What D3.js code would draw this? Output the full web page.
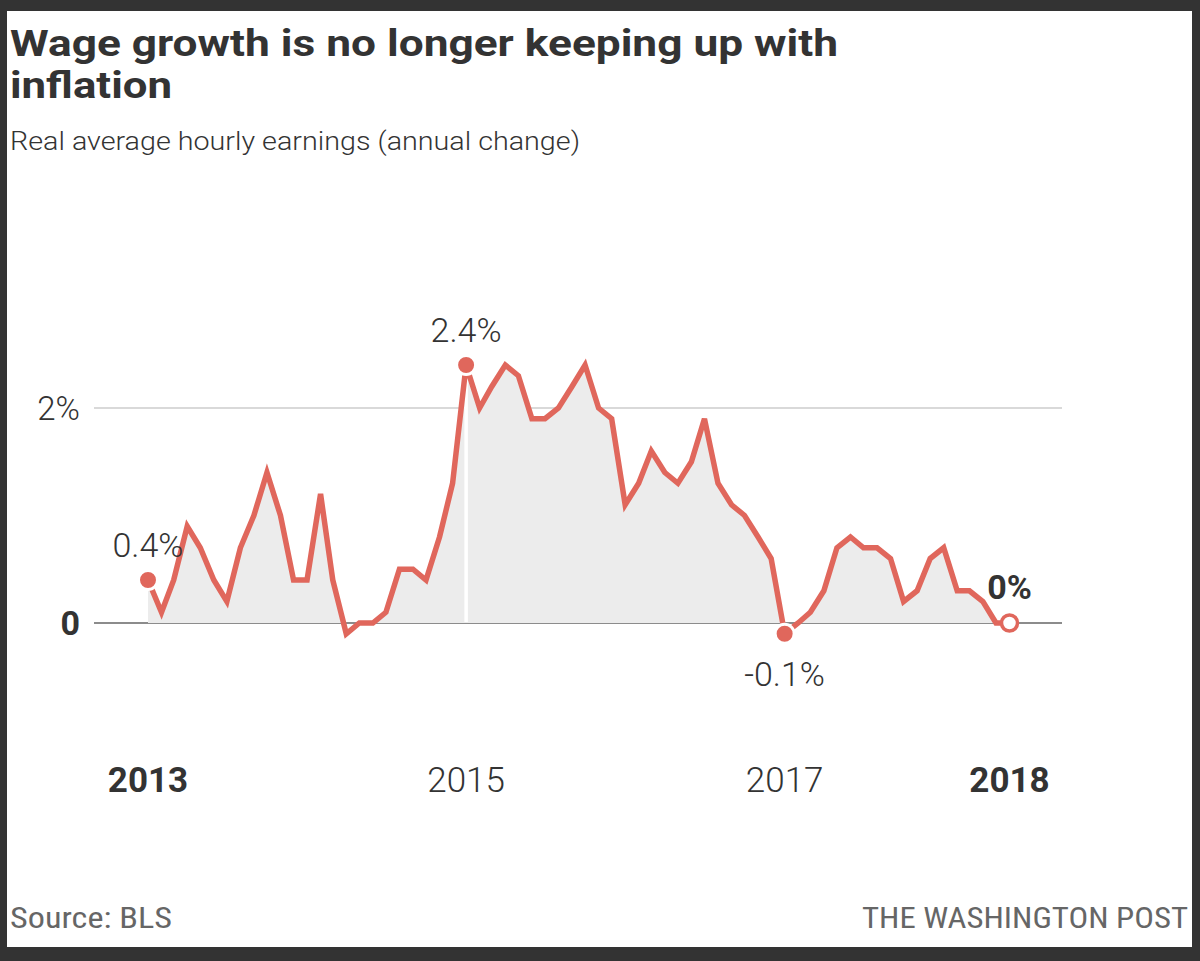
<!DOCTYPE html>
<meta charset="utf-8">
<html>
  <head>
    <title>Wage growth vs inflation</title>
    <style>
      html, body { margin: 0; padding: 0; background: #333; }
      body { font-family: "Roboto", "Liberation Sans", sans-serif; }
      svg { display: block; }
    </style>
  </head>
  <body>
    <div id="chart"></div>
    <script src="https://d3js.org/d3.v7.min.js"></script>
    <script>

      // monthly values, Jan 2013 .. Jun 2018 (percent)
      const startMonth = "2013-01";
      const values = [
        0.4, 0.1, 0.4, 0.9, 0.7, 0.4, 0.2, 0.7, 1.0, 1.4, 1.0, 0.4,
        0.4, 1.2, 0.4, -0.1, 0.0, 0.0, 0.1, 0.5, 0.5, 0.4, 0.8, 1.3,
        2.4, 2.0, 2.2, 2.4, 2.3, 1.9, 1.9, 2.0, 2.2, 2.4, 2.0, 1.9,
        1.1, 1.3, 1.6, 1.4, 1.3, 1.5, 1.9, 1.3, 1.1, 1.0, 0.8, 0.6,
        -0.1, 0.0, 0.1, 0.3, 0.7, 0.8, 0.7, 0.7, 0.6, 0.2, 0.3, 0.6,
        0.7, 0.3, 0.3, 0.2, 0.0, 0.0
      ];
      const yTicks = [0, 2];
      const xTicks = [
        {date: "2013-01", label: "2013", bold: true},
        {date: "2015-01", label: "2015", bold: false},
        {date: "2017-01", label: "2017", bold: false},
        {date: "2018-06", label: "2018", bold: true}
      ];
      // highlighted points
      const callouts = [
        {date: "2013-01", label: "0.4%", pos: "above"},
        {date: "2015-01", label: "2.4%", pos: "above"},
        {date: "2017-01", label: "-0.1%", pos: "below"},
        {date: "2018-06", label: "0%", pos: "above", last: true}
      ];

      const W = 1200, H = 961;
      const red = "#e0675c", ink = "#333";

      const parseMonth = d3.timeParse("%Y-%m");
      const start = parseMonth(startMonth);
      const data = values.map((v, i) => ({date: d3.timeMonth.offset(start, i), value: v}));
      const byDate = new Map(data.map(d => [+d.date, d]));

      const svg = d3.select("#chart")
        .append("svg")
          .attr("width", W)
          .attr("height", H);

      // white panel inside the dark frame
      svg.append("rect")
        .attr("x", 7).attr("y", 11)
        .attr("width", 1185).attr("height", 936)
        .attr("fill", "#fff");

      // title + subtitle
      svg.append("text")
        .attr("x", 10).attr("y", 56)
        .attr("font-size", "37px").attr("font-weight", 700)
        .attr("fill", ink)
        .attr("textLength", 828).attr("lengthAdjust", "spacingAndGlyphs")
        .text("Wage growth is no longer keeping up with");
      svg.append("text")
        .attr("x", 10).attr("y", 98)
        .attr("font-size", "37px").attr("font-weight", 700)
        .attr("fill", ink)
        .attr("textLength", 162).attr("lengthAdjust", "spacingAndGlyphs")
        .text("inflation");
      svg.append("text")
        .attr("x", 10).attr("y", 150)
        .attr("font-size", "26px").attr("font-weight", 300)
        .attr("fill", ink)
        .attr("textLength", 570).attr("lengthAdjust", "spacingAndGlyphs")
        .text("Real average hourly earnings (annual change)");

      // scales
      const x = d3.scaleTime()
        .domain(d3.extent(data, d => d.date))
        .range([148, 1009.5]);
      const y = d3.scaleLinear()
        .domain([0, 2])
        .range([623, 408]);

      // gridlines
      svg.append("g")
        .selectAll("line")
        .data(yTicks)
        .join("line")
          .attr("x1", 94).attr("x2", 1062)
          .attr("y1", d => y(d)).attr("y2", d => y(d))
          .attr("stroke", d => d === 0 ? "#666" : "#ccc")
          .attr("stroke-width", d => d === 0 ? 1.6 : 1.4);

      svg.append("g")
        .selectAll("text")
        .data(yTicks)
        .join("text")
          .attr("x", 80)
          .attr("y", d => y(d))
          .attr("dy", "0.36em")
          .attr("text-anchor", "end")
          .attr("font-size", d => d === 0 ? "34px" : "33px")
          .attr("font-weight", d => d === 0 ? 700 : 300)
          .attr("fill", ink)
          .text(d => d === 0 ? "0" : d + "%");

      // area + line
      svg.append("path")
        .datum(data)
        .attr("fill", "#ececec")
        .attr("d", d3.area()
          .x(d => x(d.date))
          .y0(y(0))
          .y1(d => y(Math.max(0, d.value))));

      // white divider under the 2015 peak
      const peak = byDate.get(+parseMonth("2015-01"));
      svg.append("line")
        .attr("x1", x(peak.date)).attr("x2", x(peak.date))
        .attr("y1", y(peak.value)).attr("y2", y(0) - 1)
        .attr("stroke", "#fff")
        .attr("stroke-width", 3.5);

      svg.append("path")
        .datum(data)
        .attr("fill", "none")
        .attr("stroke", red)
        .attr("stroke-width", 5.5)
        .attr("stroke-linejoin", "miter")
        .attr("d", d3.line()
          .x(d => x(d.date))
          .y(d => y(d.value)));

      // x labels
      svg.append("g")
        .selectAll("text")
        .data(xTicks)
        .join("text")
          .attr("x", d => x(parseMonth(d.date)))
          .attr("y", 792)
          .attr("text-anchor", "middle")
          .attr("font-size", "35px")
          .attr("font-weight", d => d.bold ? 700 : 300)
          .attr("fill", ink)
          .text(d => d.label);

      // callout dots and labels
      const pts = callouts.map(c => Object.assign({}, c, byDate.get(+parseMonth(c.date))));

      svg.append("g")
        .selectAll("circle")
        .data(pts)
        .join("circle")
          .attr("cx", d => x(d.date))
          .attr("cy", d => y(d.value))
          .attr("r", d => d.last ? 8 : 9.5)
          .attr("fill", d => d.last ? "#fff" : red)
          .attr("stroke", d => d.last ? red : "#fff")
          .attr("stroke-width", d => d.last ? 3.5 : 3);

      svg.append("g")
        .selectAll("text")
        .data(pts)
        .join("text")
          .attr("x", d => x(d.date))
          .attr("y", d => d.pos === "below" ? y(d.value) + 52 : y(d.value) - (d.last ? 24 : 23))
          .attr("text-anchor", "middle")
          .attr("font-size", "34px")
          .attr("font-weight", d => d.last ? 700 : 300)
          .attr("fill", ink)
          .text(d => d.label);

      // footer
      svg.append("text")
        .attr("x", 10).attr("y", 928)
        .attr("font-family", "'Liberation Sans Narrow', 'Roboto Condensed', sans-serif")
        .attr("font-size", "30px")
        .attr("fill", "#666")
        .attr("textLength", 162).attr("lengthAdjust", "spacingAndGlyphs")
        .text("Source: BLS");
      svg.append("text")
        .attr("x", 862).attr("y", 928)
        .attr("font-family", "'Liberation Sans Narrow', 'Roboto Condensed', sans-serif")
        .attr("font-size", "30px")
        .attr("fill", "#666")
        .attr("textLength", 326).attr("lengthAdjust", "spacingAndGlyphs")
        .text("THE WASHINGTON POST");

    </script>
  </body>
</html>
